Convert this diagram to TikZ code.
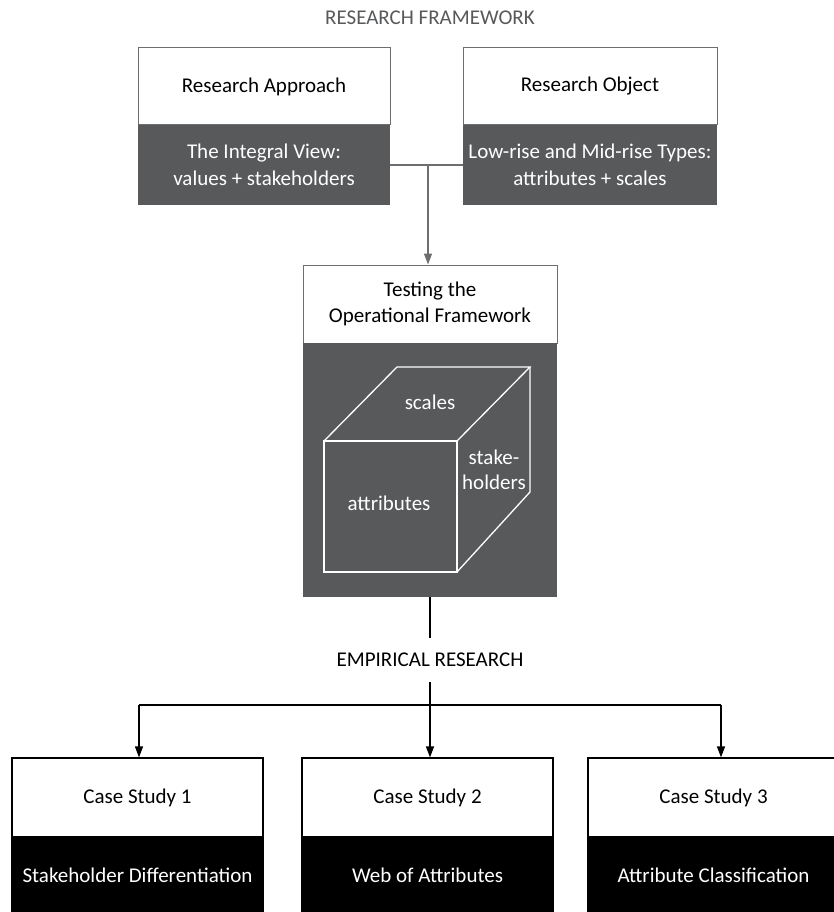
\documentclass[tikz,border=0pt]{standalone}
\usepackage{fontspec}
\setmainfont{Carlito}
\usetikzlibrary{arrows.meta}
\definecolor{darkfill}{HTML}{58595B}
\definecolor{linegrey}{HTML}{6D6E70}
\definecolor{titlegrey}{HTML}{58595B}
\begin{document}
\begin{tikzpicture}[x=1pt,y=-1pt,
  every node/.style={font=\fontsize{21}{26.5}\selectfont, inner sep=0pt, align=center},
  topw/.style={draw=linegrey, line width=1pt, fill=white, minimum width=#1, minimum height=77pt},
  topd/.style={fill=darkfill, text=white, minimum width=#1, minimum height=80pt},
  botw/.style={draw=black, line width=1.2pt, fill=white, minimum width=251pt, minimum height=79pt},
  botd/.style={draw=black, line width=1.2pt, fill=black, text=white, minimum width=251pt, minimum height=76pt},
  heading/.style={text=titlegrey},
  greyconn/.style={draw=linegrey, line width=1.3pt},
  blackconn/.style={draw=black, line width=1.3pt},
  greytip/.style={-{Triangle[length=11pt,width=8pt]}, greyconn},
  blacktip/.style={-{Triangle[length=11pt,width=8pt]}, blackconn},
  cubeline/.style={draw=white, line width=1.3pt, line join=miter},
  cubetext/.style={text=white}
]
\useasboundingbox (0,0) rectangle (834,912);

% title
\node[heading] (title) at (430,18) {RESEARCH FRAMEWORK};

% top boxes
\node[topw=252pt] (aw) at (264,86.5) {Research Approach};
\node[topd=252pt] (ad) at (264,165) {The Integral View:\\values + stakeholders};
\node[topw=254pt] (ow) at (590,86.5) {Research Object};
\node[topd=254pt] (od) at (590,165) {Low-rise and Mid-rise Types:\\attributes + scales};

% middle box
\node[topw=254pt, minimum height=78pt] (mw) at (430,304) {Testing the\\Operational Framework};
\node[fill=darkfill, minimum width=254pt, minimum height=254pt] (md) at (430,470) {};

% cube
\draw[cubeline] (324,441) rectangle (457,572);
\draw[cubeline] (324,441) -- (397,367) -- (530,367) -- (457,441);
\draw[cubeline] (530,367) -- (530,492) -- (457,572);
\node[cubetext] (scales) at (430,402) {scales};
\node[cubetext, font=\fontsize{21}{25}\selectfont] (stake) at (494,470) {stake-\\holders};
\node[cubetext] (attr) at (389,503) {attributes};

% top connector
\coordinate (tj) at (428,165);
\draw[greyconn] (ad.east) -- (od.west);
\draw[greytip] (tj) -- (tj |- mw.north);

% empirical research
\node (emp) at (430,660) {EMPIRICAL RESEARCH};
\coordinate (e1) at (430,638);
\coordinate (e2) at (430,682);
\draw[blackconn] (md.south -| e1) -- (e1);

% bottom boxes
\node[botw] (c1w) at (137.5,797.5) {Case Study 1};
\node[botd] (c1d) at (137.5,875) {Stakeholder Differentiation};
\node[botw] (c2w) at (427.5,797.5) {Case Study 2};
\node[botd] (c2d) at (427.5,875) {Web of Attributes};
\node[botw] (c3w) at (713.5,797.5) {Case Study 3};
\node[botd] (c3d) at (713.5,875) {Attribute Classification};

% bus
\coordinate (b1) at (139,705);
\coordinate (b2) at (430,705);
\coordinate (b3) at (721,705);
\draw[blackconn] (b1) -- (b3);
\draw[blackconn] (e2) -- (b2);
\draw[blacktip] (b1) -- (b1 |- c1w.north);
\draw[blacktip] (b2) -- (b2 |- c2w.north);
\draw[blacktip] (b3) -- (b3 |- c3w.north);
\end{tikzpicture}
\end{document}
